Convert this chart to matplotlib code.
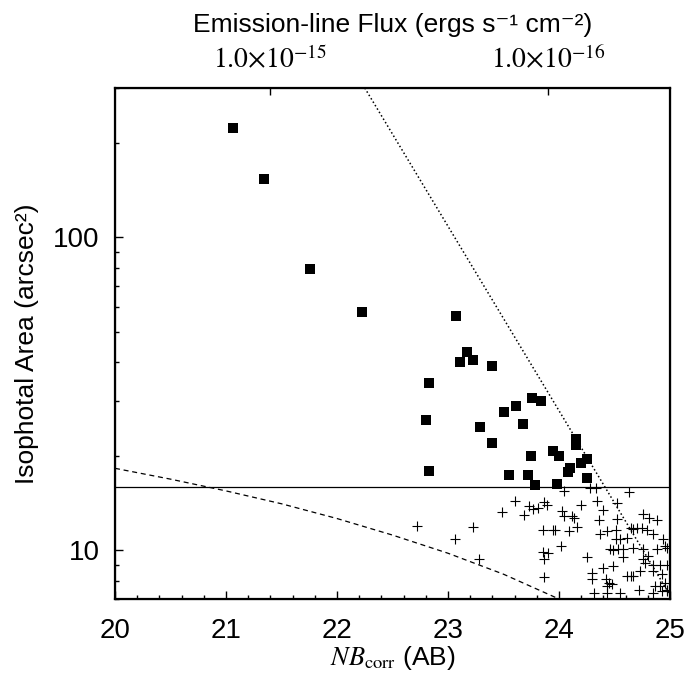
import numpy as np
import matplotlib
matplotlib.use('Agg')
import matplotlib.pyplot as plt
from matplotlib.ticker import FixedLocator, MultipleLocator, NullFormatter, LogLocator, FuncFormatter

plt.rcParams['font.family'] = ['Liberation Sans', 'DejaVu Sans']
plt.rcParams['mathtext.fontset'] = 'stix'

# Large objects (filled squares)
sq_mag = [21.066, 21.345, 21.76, 22.228, 23.069, 23.174, 23.111, 23.228, 23.399,
          22.832, 22.805, 23.29, 23.507, 23.615, 23.759, 23.84, 23.678, 24.15,
          24.15, 23.40, 22.83, 23.75, 23.95, 24.00, 24.10, 24.20, 24.25,
          23.55, 23.72, 23.78, 23.985, 24.084, 24.25]
sq_area = [223, 154, 79, 57.7, 56.0, 43.0, 39.9, 40.5, 38.8,
           34.2, 26.2, 24.8, 27.7, 28.9, 30.6, 30.0, 25.3, 22.7,
           21.8, 22.0, 18.0, 20.0, 20.8, 20.0, 18.3, 19.0, 19.6,
           17.4, 17.4, 16.2, 16.3, 17.8, 17.0]

# Small objects (plus signs)
pl_mag = [22.72, 24.045, 24.279, 24.333, 24.634, 23.607, 23.733, 23.814, 23.769, 23.868,
          23.889, 23.49, 23.688, 24.201, 24.339, 24.52, 24.399, 24.024, 24.048, 24.12,
          24.138, 24.76, 24.811, 24.886, 24.357, 24.52, 23.228, 23.06, 23.859, 23.949,
          23.967, 24.087, 24.159, 24.369, 24.429, 24.514, 24.652, 24.664, 24.70, 24.745,
          24.79, 24.85, 24.94, 24.61, 24.55, 24.51, 24.535, 24.574, 24.574, 24.46,
          24.49, 24.664, 24.754, 24.805, 24.88, 24.955, 24.97, 24.018, 23.859, 23.904,
          23.868, 23.282, 24.249, 24.76, 24.775, 24.85, 24.91, 24.97, 24.49, 24.40,
          24.294, 24.294, 23.868, 24.61, 24.646, 24.67, 24.423, 24.453, 24.475, 24.435,
          24.73, 24.85, 24.925, 24.955, 24.865, 24.91, 24.97, 24.72, 24.315, 24.43,
          24.55, 24.85, 24.925, 24.97]
pl_area = [12.0, 15.5, 15.8, 15.8, 15.4, 14.4, 13.9, 13.7, 13.6, 14.3,
           14.0, 13.3, 13.0, 14.0, 14.4, 14.2, 13.5, 13.4, 12.9, 12.9,
           12.7, 13.1, 12.7, 12.5, 12.5, 12.6, 11.9, 10.9, 11.6, 11.6,
           11.6, 11.5, 11.9, 11.3, 11.5, 11.6, 11.8, 11.7, 11.8, 11.8,
           11.6, 11.3, 10.9, 11.0, 10.9, 10.9, 10.1, 10.1, 9.5, 10.1,
           10.0, 10.2, 10.1, 9.6, 10.1, 10.3, 10.2, 10.3, 9.9, 9.8,
           9.4, 9.4, 9.5, 9.4, 9.1, 9.0, 9.0, 9.0, 8.9, 8.8,
           8.5, 8.1, 8.2, 8.3, 8.3, 8.3, 8.1, 7.9, 7.8, 7.7,
           8.6, 8.6, 8.4, 7.9, 7.7, 7.7, 7.5, 7.5, 7.3, 7.3,
           7.3, 7.3, 7.4, 7.4]

area_limit = 16.0
dot_mag = [22.25, 25.0]
dot_area = [300.0, 7.2]
dash_mag = [20.0, 20.5, 21.0, 21.5, 22.0, 22.5, 23.0, 23.5, 24.0]
dash_area = [18.3, 16.9, 15.5, 14.1, 12.65, 11.2, 9.8, 8.4, 7.0]

flux_ticks = [1e-15, 1e-16]
flux_labels = [r'$1.0{\times}10^{-15}$', r'$1.0{\times}10^{-16}$']
mag_zeropoint = -16.10

xlim = (20, 25)
ylim = (7, 300)

fig = plt.figure(figsize=(6.87, 6.82), dpi=100)
ax = fig.add_axes([0.1674, 0.1217, 0.8079, 0.7493])

ax.plot(sq_mag, sq_area, 's', color='black', markersize=7.2, markeredgewidth=0)
ax.plot(pl_mag, pl_area, '+', color='black', markersize=7.5, markeredgewidth=0.8)
ax.axhline(area_limit, color='black', lw=0.9)
ax.plot(dot_mag, dot_area, color='black', lw=1.1, linestyle=(0, (1, 1.6)))
ax.plot(dash_mag, dash_area, color='black', lw=0.9, linestyle=(0, (4, 3)))

ax.set_yscale('log')
ax.set_xlim(*xlim)
ax.set_ylim(*ylim)

ax.xaxis.set_major_locator(MultipleLocator(1))
ax.xaxis.set_minor_locator(MultipleLocator(0.2))
ax.yaxis.set_major_locator(LogLocator(base=10))
ax.yaxis.set_minor_locator(LogLocator(base=10, subs=np.arange(2, 10)))
ax.yaxis.set_major_formatter(FuncFormatter(lambda v, p: '%d' % v))
ax.yaxis.set_minor_formatter(NullFormatter())

ax.tick_params(which='both', direction='in', top=False, right=False, labelsize=20, width=1)
ax.tick_params(which='major', length=6)
ax.tick_params(axis='x', which='major', pad=14)
ax.tick_params(axis='y', which='major', pad=11)
ax.tick_params(which='minor', length=3)
for s in ax.spines.values():
    s.set_linewidth(1.6)

ax.set_xlabel(r'$\mathit{NB}_{\mathrm{corr}}$ (AB)', fontsize=19, labelpad=0)
ax.set_ylabel('Isophotal Area (arcsec²)', fontsize=19, labelpad=10)

ax2 = ax.twiny()
ax2.set_xlim(*xlim)
ax2.set_xticks([mag_zeropoint - 2.5 * np.log10(f) for f in flux_ticks])
ax2.set_xticklabels(flux_labels, fontsize=20)
ax2.tick_params(direction='in', length=5, width=1, pad=10)
ax2.xaxis.set_minor_locator(FixedLocator([]))
ax2.set_xlabel('Emission-line Flux (ergs s⁻¹ cm⁻²)', fontsize=19, labelpad=10)

fig.savefig('out.png', dpi=100)
